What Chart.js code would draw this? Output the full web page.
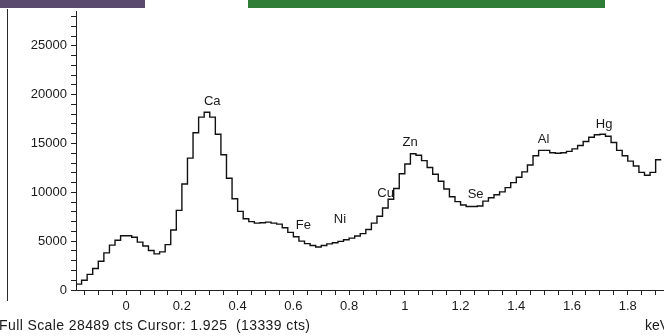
<!DOCTYPE html>
<html>
<head>
<meta charset="utf-8">
<script src="https://cdn.jsdelivr.net/npm/chart.js@4.4.1/dist/chart.umd.min.js"></script>
<style>
  html, body { margin:0; padding:0; background:#ffffff; }
  #wrap { position:relative; width:664px; height:336px; overflow:hidden; background:#fff; }
  #c { position:absolute; left:0; top:0; }
  .bar { position:absolute; top:0; height:8px; }
  #frame { position:absolute; left:7px; top:9px; width:1px; height:292px; background:#2a2a2a; }
  .txt { position:absolute; font-family:"Liberation Sans", Arial, sans-serif; font-size:14px; color:#1a1a1a; white-space:pre; }
</style>
</head>
<body>
<div id="wrap">
  <canvas id="c" width="664" height="336"></canvas>
  <div class="bar" style="left:0;width:145px;background:#5a4a6e;"></div>
  <div class="bar" style="left:248px;width:357px;background:#2f7d36;"></div>
  <div id="frame"></div>
  <div class="txt" style="left:-1px;top:317px;letter-spacing:0.4px;">Full Scale 28489 cts Cursor: 1.925  (13339 cts)</div>
  <div class="txt" style="left:645px;top:317px;">keV</div>
</div>
<script>
// Channel energies (keV, left edge of each 0.02 keV channel)
const channelEnergy = [
  -0.18,-0.16,-0.14,-0.12,-0.10,-0.08,-0.06,-0.04,-0.02,0.00,
  0.02,0.04,0.06,0.08,0.10,0.12,0.14,0.16,0.18,0.20,
  0.22,0.24,0.26,0.28,0.30,0.32,0.34,0.36,0.38,0.40,
  0.42,0.44,0.46,0.48,0.50,0.52,0.54,0.56,0.58,0.60,
  0.62,0.64,0.66,0.68,0.70,0.72,0.74,0.76,0.78,0.80,
  0.82,0.84,0.86,0.88,0.90,0.92,0.94,0.96,0.98,1.00,
  1.02,1.04,1.06,1.08,1.10,1.12,1.14,1.16,1.18,1.20,
  1.22,1.24,1.26,1.28,1.30,1.32,1.34,1.36,1.38,1.40,
  1.42,1.44,1.46,1.48,1.50,1.52,1.54,1.56,1.58,1.60,
  1.62,1.64,1.66,1.68,1.70,1.72,1.74,1.76,1.78,1.80,
  1.82,1.84,1.86,1.88,1.90,1.92
];
// Counts per channel
const channelCounts = [
  300,600,1000,1600,2200,2950,3800,4600,5100,5550,
  5550,5400,4900,4500,4050,3700,3900,4650,6150,8150,
  10850,13500,16100,17700,18200,17700,15950,13850,11450,9350,
  8050,7300,7000,6850,6880,6950,6850,6750,6380,5900,
  5450,5000,4750,4550,4400,4550,4720,4840,4980,5150,
  5310,5530,5770,6200,6850,7550,8400,9300,10400,11900,
  12900,13950,13800,13250,12550,11850,11130,10350,9550,9050,
  8700,8550,8550,8600,9100,9450,9750,10050,10480,11000,
  11550,12100,12800,13750,14300,14300,14050,14000,14050,14200,
  14450,14800,15200,15650,15900,15950,15750,15100,14300,13750,
  13200,12700,12050,11750,12050,13339
];
// Element labels and where they sit (keV, counts)
const peakNames  = ["Ca","Fe","Ni","Cu","Zn","Se","Al","Hg"];
const peakEnergy = [0.309,0.636,0.767,0.931,1.019,1.254,1.498,1.715];
const peakHeight = [19300,6620,7240,9900,15080,9770,15400,17000];
// Axis settings
const xMin = -0.18, xMax = 1.93, xMinorStep = 0.05, xMajorStep = 0.2;
const yMin = 0, yMax = 28489, yMinorStep = 1000, yMajorStep = 5000;

const FONT = '"Liberation Sans", Arial, sans-serif';

const peakLabels = {
  id: 'peakLabels',
  afterDatasetsDraw(chart) {
    const {ctx, scales: {x, y}} = chart;
    ctx.save();
    ctx.font = '13px ' + FONT;
    ctx.fillStyle = '#1a1a1a';
    ctx.textAlign = 'center';
    ctx.textBaseline = 'middle';
    peakNames.forEach((n, i) => {
      ctx.fillText(n, x.getPixelForValue(peakEnergy[i]), y.getPixelForValue(peakHeight[i]));
    });
    ctx.restore();
  }
};

const isMult = (v, s) => Math.abs(v / s - Math.round(v / s)) < 1e-6;
function stepTicks(s, step) {
  const out = [];
  const first = Math.ceil(s.min / step - 1e-9);
  const last = Math.floor(s.max / step + 1e-9);
  for (let k = first; k <= last; k++) out.push({ value: Math.round(k * step * 1e6) / 1e6 });
  s.ticks = out;
}

new Chart(document.getElementById('c'), {
  type: 'line',
  data: {
    datasets: [{
      data: channelEnergy.map((e, i) => ({x: e, y: channelCounts[i]})),
      stepped: 'after',
      borderColor: '#111',
      borderWidth: 1.4,
      pointRadius: 0,
      fill: false
    }]
  },
  options: {
    responsive: false,
    animation: false,
    events: [],
    layout: { padding: { top: 8, right: 0, left: 0, bottom: 0 } },
    plugins: { legend: { display: false }, tooltip: { enabled: false } },
    scales: {
      x: {
        type: 'linear', min: xMin, max: xMax,
        afterFit(s) { s.height = 46; },
        afterBuildTicks(s) { stepTicks(s, xMinorStep); },
        ticks: {
          autoSkip: false, maxRotation: 0, padding: 4,
          color: '#1a1a1a', font: { family: FONT, size: 13 },
          callback: v => isMult(v, xMajorStep) ? String(Math.round(v * 10) / 10) : ''
        },
        grid: { drawOnChartArea: false, tickLength: 5, color: '#222', tickColor: '#222' },
        border: { color: '#222', width: 1 }
      },
      y: {
        min: yMin, max: yMax,
        afterFit(s) { s.width = 76; },
        afterBuildTicks(s) { stepTicks(s, yMinorStep); },
        ticks: {
          autoSkip: false, padding: 4,
          color: '#1a1a1a', font: { family: FONT, size: 13 },
          callback: v => isMult(v, yMajorStep) ? String(v) : ''
        },
        grid: { drawOnChartArea: false, tickLength: 5, color: '#222', tickColor: '#222' },
        border: { color: '#222', width: 1 }
      }
    }
  },
  plugins: [peakLabels]
});
</script>
</body>
</html>
